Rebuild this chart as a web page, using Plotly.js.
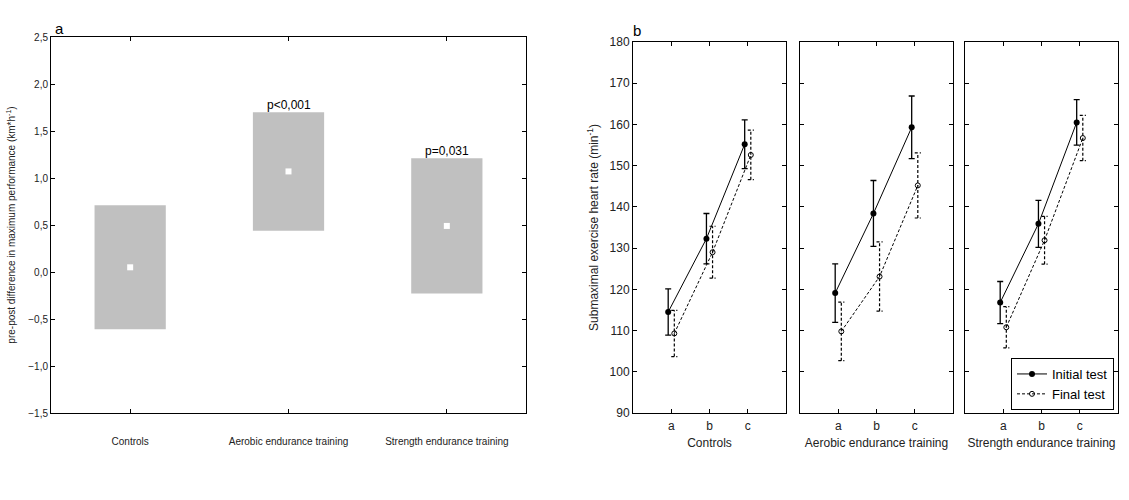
<!DOCTYPE html>
<html>
<head>
<meta charset="utf-8">
<script src="https://cdn.plot.ly/plotly-3.0.1.min.js"></script>
<style>html,body{margin:0;padding:0;background:#fff}#chart{width:1129px;height:500px}</style>
</head>
<body>
<div id="chart"></div>
<script>
// ---------- Panel a data ----------
const aGroups = ['Controls', 'Aerobic endurance training', 'Strength endurance training'];
const aMean = [0.05, 1.07, 0.49];
const aLow = [-0.61, 0.44, -0.23];
const aHigh = [0.71, 1.70, 1.21];
const aPLabels = ['', 'p<0,001', 'p=0,031'];

// ---------- Panel b data ----------
const bGroups = ['Controls', 'Aerobic endurance training', 'Strength endurance training'];
const bConditions = ['a', 'b', 'c'];
const initialMean = [[114.5, 132.3, 155.2], [119.1, 138.4, 159.3], [116.8, 135.9, 160.5]];
const initialErr = [[5.6, 6.1, 5.9], [7.1, 8.0, 7.6], [5.1, 5.7, 5.5]];
const finalMean = [[109.3, 129.0, 152.6], [109.8, 123.1, 145.2], [110.8, 131.9, 156.7]];
const finalErr = [[5.6, 6.3, 6.0], [7.1, 8.4, 7.9], [5.0, 5.8, 5.5]];
const seriesNames = ['Initial test', 'Final test'];

const W = 1129, H = 500;
const px = v => v / W;
const py = v => 1 - v / H;
const FONT = 'Arial, "Liberation Sans", sans-serif';
const dodge = 0.08, cap = 0.08;

const traces = [];
const idx = aGroups.map((_, i) => i);

// Panel a boxes
traces.push({
  type: 'bar', x: idx, base: aLow, y: aHigh.map((h, i) => h - aLow[i]),
  width: 0.45, marker: {color: '#c0c0c0', line: {width: 0}},
  xaxis: 'x', yaxis: 'y', showlegend: false, hoverinfo: 'skip'
});
traces.push({
  type: 'scatter', mode: 'markers', x: idx, y: aMean,
  marker: {symbol: 'square', size: 6, color: '#ffffff', line: {width: 0}},
  xaxis: 'x', yaxis: 'y', showlegend: false
});

// Panel b
const axes = [['x2', 'y2'], ['x3', 'y3'], ['x4', 'y4']];
bGroups.forEach((g, gi) => {
  const [xa, ya] = axes[gi];
  const ci = bConditions.map((_, i) => i);
  // dashed error bars for final test
  const ex = [], ey = [];
  ci.forEach(i => {
    const x = i + dodge, m = finalMean[gi][i], e = finalErr[gi][i];
    ex.push(x, x, null, x - cap, x + cap, null, x - cap, x + cap, null);
    ey.push(m - e, m + e, null, m + e, m + e, null, m - e, m - e, null);
  });
  traces.push({
    type: 'scatter', mode: 'lines', x: ex, y: ey, xaxis: xa, yaxis: ya,
    line: {color: '#000', width: 1.2, dash: '3px,2px'}, showlegend: false, hoverinfo: 'skip'
  });
  traces.push({
    type: 'scatter', mode: 'lines+markers', name: seriesNames[1],
    x: ci.map(i => i + dodge), y: finalMean[gi], xaxis: xa, yaxis: ya,
    line: {color: '#000', width: 1, dash: '3px,2px'},
    marker: {symbol: 'circle-open', size: 5, color: '#000', line: {width: 1}},
    showlegend: gi === 2, legendrank: 2
  });
  traces.push({
    type: 'scatter', mode: 'lines+markers', name: seriesNames[0],
    x: ci.map(i => i - dodge), y: initialMean[gi], xaxis: xa, yaxis: ya,
    line: {color: '#000', width: 1},
    marker: {symbol: 'circle', size: 6, color: '#000'},
    error_y: {type: 'data', array: initialErr[gi], visible: true, color: '#000', thickness: 1.3, width: 3},
    showlegend: gi === 2, legendrank: 1
  });
});

const baseAxis = {
  showline: true, mirror: 'allticks', linecolor: '#000', linewidth: 1,
  ticks: 'inside', ticklen: 4, tickcolor: '#000', showgrid: false, zeroline: false,
  tickfont: {family: FONT, size: 12, color: '#222'}
};

const layout = {
  width: W, height: H, margin: {l: 0, r: 0, t: 0, b: 0},
  paper_bgcolor: '#fff', plot_bgcolor: '#fff',
  separators: ', ', font: {family: FONT, color: '#222'},
  showlegend: true,
  legend: {
    x: px(1114), xanchor: 'right', y: py(410), yanchor: 'bottom',
    bordercolor: '#000', borderwidth: 1, bgcolor: '#fff',
    font: {family: FONT, size: 13, color: '#000'}, tracegroupgap: 0, itemwidth: 30
  },
  xaxis: Object.assign({}, baseAxis, {
    domain: [px(51), px(526)], range: [-0.5, 2.5], tickvals: idx, ticktext: aGroups,
    tickfont: {family: FONT, size: 10, color: '#222'}, ticklabelstandoff: 19, anchor: 'y'
  }),
  yaxis: Object.assign({}, baseAxis, {
    domain: [py(413), py(37)], range: [-1.5, 2.5], dtick: 0.5, tick0: -1.5, tickformat: '.1f',
    tickfont: {family: FONT, size: 10, color: '#222'}, anchor: 'x',
    title: {text: 'pre-post difference in maximum performance (km*h<sup>-1</sup>)', font: {family: FONT, size: 10, color: '#222'}, standoff: 10}
  }),
  annotations: [
    {xref: 'paper', yref: 'paper', x: px(53), y: py(28), text: 'a', showarrow: false, xanchor: 'left', yanchor: 'middle', font: {family: FONT, size: 15, color: '#000'}},
    {xref: 'paper', yref: 'paper', x: px(631), y: py(30), text: 'b', showarrow: false, xanchor: 'left', yanchor: 'middle', font: {family: FONT, size: 15, color: '#000'}}
  ]
};

aPLabels.forEach((t, i) => {
  if (t) layout.annotations.push({
    xref: 'x', yref: 'y', x: i, y: aHigh[i], text: t, showarrow: false,
    yanchor: 'bottom', yshift: -2, font: {family: FONT, size: 12, color: '#000'}
  });
});

const bDomains = [[633, 786], [800, 953], [965, 1118]];
bDomains.forEach((d, gi) => {
  const n = gi + 2;
  layout['xaxis' + n] = Object.assign({}, baseAxis, {
    domain: [px(d[0]), px(d[1])], range: [-1, 3], tickvals: [0, 1, 2], ticktext: bConditions,
    anchor: 'y' + n, ticklabelstandoff: 2,
    title: {text: bGroups[gi], font: {family: FONT, size: 12, color: '#222'}, standoff: 6}
  });
  const yax = Object.assign({}, baseAxis, {
    domain: [py(413), py(42)], range: [90, 180], dtick: 10, tick0: 90,
    anchor: 'x' + n, showticklabels: gi === 0
  });
  if (gi === 0) yax.title = {text: 'Submaximal exercise heart rate (min<sup>-1</sup>)', font: {family: FONT, size: 12, color: '#222'}, standoff: 8};
  layout['yaxis' + n] = yax;
});

Plotly.newPlot('chart', traces, layout, {displayModeBar: false, staticPlot: true});
</script>
</body>
</html>
